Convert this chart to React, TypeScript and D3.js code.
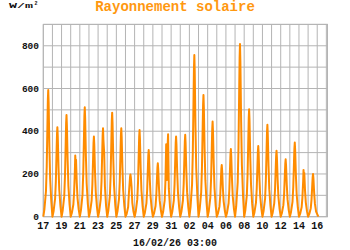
import React from "react";
import * as d3 from "d3";

// Hours of day at which each day's values are sampled
const sampleHours = [0, 3, 7, 9, 11, 12, 13, 14, 16, 18, 21];

// Solar radiation (W/m²), one row per day from 17/01 to 15/02
const dailyRadiation: number[][] = [
  [0, 36, 119, 235, 445, 550, 593, 534, 326, 178, 71],
  [0, 25, 84, 165, 314, 385, 419, 377, 230, 126, 50],
  [0, 29, 95, 190, 357, 438, 476, 428, 262, 143, 57],
  [0, 17, 57, 115, 215, 286, 250, 266, 157, 86, 34],
  [0, 31, 102, 205, 384, 471, 512, 461, 282, 154, 61],
  [0, 23, 75, 150, 281, 345, 375, 338, 206, 113, 45],
  [0, 25, 83, 165, 310, 381, 414, 360, 300, 140, 50],
  [0, 29, 97, 195, 365, 448, 487, 438, 268, 146, 58],
  [0, 25, 83, 165, 310, 381, 414, 373, 228, 124, 50],
  [0, 12, 45, 110, 160, 185, 198, 185, 140, 65, 24],
  [0, 24, 81, 162, 305, 374, 406, 365, 223, 122, 49],
  [0, 19, 62, 125, 234, 287, 312, 281, 172, 94, 37],
  [0, 15, 50, 100, 188, 230, 250, 225, 138, 75, 30],
  [0, 23, 75, 165, 339, 250, 172, 300, 386, 130, 46],
  [0, 23, 75, 150, 281, 345, 375, 338, 206, 113, 45],
  [0, 23, 77, 153, 287, 352, 383, 345, 211, 115, 46],
  [0, 45, 151, 303, 568, 696, 757, 681, 416, 227, 91],
  [0, 34, 114, 228, 428, 524, 570, 513, 314, 171, 68],
  [0, 27, 89, 178, 334, 409, 445, 401, 245, 134, 53],
  [0, 15, 48, 97, 182, 223, 242, 218, 133, 73, 29],
  [0, 19, 63, 127, 238, 292, 317, 285, 174, 95, 38],
  [0, 48, 162, 323, 606, 743, 808, 727, 444, 242, 97],
  [0, 30, 101, 201, 377, 463, 503, 453, 277, 151, 60],
  [0, 20, 66, 132, 248, 305, 331, 298, 182, 99, 40],
  [0, 26, 86, 172, 323, 396, 430, 387, 237, 129, 52],
  [0, 19, 62, 124, 232, 284, 309, 278, 170, 93, 37],
  [0, 16, 54, 108, 202, 247, 269, 242, 148, 81, 32],
  [0, 21, 69, 139, 260, 319, 347, 312, 191, 104, 42],
  [0, 13, 44, 88, 164, 219, 180, 205, 120, 66, 26],
  [0, 12, 40, 80, 150, 184, 200, 180, 110, 60, 24],
];

const yGridValues = [0, 100, 200, 300, 400, 500, 600, 700, 800, 900];
const yLabelValues = [0, 200, 400, 600, 800];

const title = "Rayonnement solaire";
const unitLabel = "W/m";
const timestamp = "16/02/26 03:00";

const startDate = new Date(2026, 0, 17, 0, 0);
const endDate = new Date(2026, 1, 17, 3, 0);
const lastPoint = new Date(2026, 1, 16, 3, 0);

const FONT = "'Liberation Mono', 'Courier New', monospace";
const ORANGE = "#ff8c00";
const TITLE_ORANGE = "#ff9810";
const GRID = "#b4b4b4";

export default function App() {
  const left = 43.3,
    right = 327.5,
    top = 24.4,
    bottom = 216.7;

  const x = d3.scaleTime().domain([startDate, endDate]).range([left, right]);
  const y = d3.scaleLinear().domain([0, 900]).range([bottom, top]);

  const points: { t: Date; v: number }[] = [];
  dailyRadiation.forEach((row, d) => {
    row.forEach((v, i) => {
      points.push({ t: new Date(2026, 0, 17 + d, sampleHours[i], 0), v });
    });
  });
  points.push({ t: lastPoint, v: 0 });

  const line = d3
    .line<{ t: Date; v: number }>()
    .x((p) => x(p.t))
    .y((p) => y(p.v));

  const days = d3.timeDay.range(startDate, endDate);
  const fmt = d3.timeFormat("%d");

  return (
    <svg
      width={350}
      height={250}
      style={{ position: "absolute", left: 0, top: 0, background: "#fff" }}
    >
      <rect x={0} y={0} width={350} height={250} fill="#fff" />
      {yGridValues.map((v) => (
        <line
          key={"h" + v}
          x1={left}
          x2={right}
          y1={y(v)}
          y2={y(v)}
          stroke={GRID}
          strokeWidth={1}
        />
      ))}
      {days.map((d, i) => (
        <line
          key={"v" + i}
          x1={x(d)}
          x2={x(d)}
          y1={top}
          y2={bottom}
          stroke={GRID}
          strokeWidth={1}
        />
      ))}
      <rect
        x={left}
        y={top}
        width={right - left}
        height={bottom - top}
        fill="none"
        stroke={GRID}
        strokeWidth={1}
      />
      <path
        d={line(points) || ""}
        fill="none"
        stroke={ORANGE}
        strokeWidth={2}
        strokeLinejoin="round"
      />
      {yLabelValues.map((v) => (
        <text
          key={"yl" + v}
          x={39}
          y={y(v) + 3}
          textAnchor="end"
          fontFamily={FONT}
          fontWeight="bold"
          fontSize={9.5}
          fill="#111"
        >
          {v}
        </text>
      ))}
      {days.map((d, i) =>
        i % 2 === 0 ? (
          <text
            key={"xl" + i}
            x={x(d)}
            y={229}
            textAnchor="middle"
            fontFamily={FONT}
            fontWeight="bold"
            fontSize={10}
            fill="#111"
          >
            {fmt(d)}
          </text>
        ) : null
      )}
      <text
        x={175}
        y={246}
        textAnchor="middle"
        fontFamily={FONT}
        fontWeight="bold"
        fontSize={10}
        fill="#111"
      >
        {timestamp}
      </text>
      <text
        x={175}
        y={11}
        textAnchor="middle"
        fontFamily={FONT}
        fontWeight="bold"
        fontSize={14}
        fill={TITLE_ORANGE}
      >
        {title}
      </text>
      <text
        x={9}
        y={8}
        fontFamily={FONT}
        fontWeight="bold"
        fontSize={7}
        textLength={24}
        lengthAdjust="spacingAndGlyphs"
        fill="#111"
      >
        {unitLabel}
      </text>
      <text
        x={34.5}
        y={5}
        fontFamily={FONT}
        fontWeight="bold"
        fontSize={5}
        fill="#111"
      >
        2
      </text>
    </svg>
  );
}
